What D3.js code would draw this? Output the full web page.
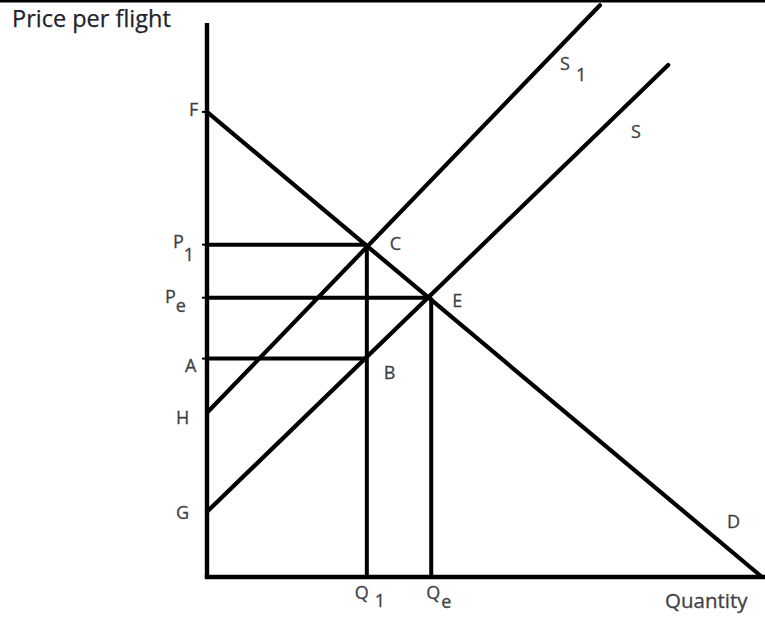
<!DOCTYPE html>
<html>
<head>
<meta charset="utf-8">
<script src="https://cdn.jsdelivr.net/npm/d3@7"></script>
<style>
  html, body { margin: 0; padding: 0; background: #fff; }
  svg { display: block; }
</style>
</head>
<body>
<svg id="chart" width="765" height="618"></svg>
<script>
// ---------- data (economic units: quantity 0-100, price 0-100) ----------
const priceLevels = [
  { name: "F",  price: 84.1 },
  { name: "P1", price: 60.1 },
  { name: "Pe", price: 50.5 },
  { name: "A",  price: 39.5 },
  { name: "H",  price: 29.7 },
  { name: "G",  price: 11.8 }
];
const quantityLevels = [
  { name: "Q1", quantity: 28.8 },
  { name: "Qe", quantity: 40.4 }
];
const demandD   = [[0, 84.1], [100, 0]];
const supplyS1  = [[0, 29.7], [70.8, 103.4]];
const supplyS   = [[0, 11.8], [83.1, 92.6]];
const pointC = [28.8, 60.1];
const pointE = [40.4, 50.5];
const pointB = [28.8, 39.5];
const axisTitles = { y: "Price per flight", x: "Quantity" };

// ---------- layout ----------
const svg = d3.select("#chart");
const x = d3.scaleLinear().domain([0, 100]).range([207, 762]);
const y = d3.scaleLinear().domain([0, 100]).range([577, 24]);
const line = d3.line().x(d => x(d[0])).y(d => y(d[1]));
const labelColor = "#3f3f44";
const font = "'Open Sans', 'DejaVu Sans', sans-serif";

// top border bar
svg.append("rect").attr("x", 0).attr("y", 0).attr("width", 765).attr("height", 2.5).attr("fill", "#000");

// axis titles
svg.append("text").attr("x", 12).attr("y", 27)
  .attr("font-family", font).attr("font-size", 23.5).attr("fill", "#22222c")
  .attr("stroke", "#22222c").attr("stroke-width", 0.25)
  .text(axisTitles.y);
svg.append("text").attr("x", 665).attr("y", 608)
  .attr("font-family", font).attr("font-size", 20.5).attr("fill", labelColor)
  .attr("stroke", labelColor).attr("stroke-width", 0.3)
  .text(axisTitles.x);

const g = svg.append("g").attr("stroke", "#000").attr("fill", "none");

// guide lines
[pointC, pointE, pointB].forEach(p => {
  g.append("path").attr("d", line([[0, p[1]], p])).attr("stroke-width", 4);
});
[pointC, pointE].forEach(p => {
  g.append("path").attr("d", line([[p[0], 0], p])).attr("stroke-width", 4);
});

// curves
g.append("path").attr("d", line(demandD)).attr("stroke-width", 4.2);
g.append("path").attr("d", line(supplyS1)).attr("stroke-width", 4.2).attr("stroke-linecap", "round");
g.append("path").attr("d", line(supplyS)).attr("stroke-width", 4.2).attr("stroke-linecap", "round");

// axes
g.append("path").attr("d", line([[0, 0], [0, 100.2]])).attr("stroke-width", 4.4);
g.append("path").attr("d", line([[-0.4, 0], [100.6, 0]])).attr("stroke-width", 4.4);

// small ticks left of axis
priceLevels.filter(d => ["F", "P1", "Pe", "A"].includes(d.name)).forEach(d => {
  g.append("line").attr("x1", x(0) - 5).attr("x2", x(0)).attr("y1", y(d.price)).attr("y2", y(d.price))
    .attr("stroke-width", 2);
});

// ---------- labels ----------
function label(txt, cx, baseline, sub, subDx, subDy) {
  const t = svg.append("text").attr("x", cx).attr("y", baseline)
    .attr("font-family", font).attr("font-size", 18)
    .attr("fill", labelColor).attr("stroke", labelColor).attr("stroke-width", 0.3)
    .text(txt);
  if (sub) {
    t.append("tspan").attr("dx", subDx).attr("dy", subDy).text(sub);
  }
  return t;
}
const pl = Object.fromEntries(priceLevels.map(d => [d.name, d.price]));
const ql = Object.fromEntries(quantityLevels.map(d => [d.name, d.quantity]));

label("F", x(0) - 18, y(pl.F) + 4);
label("P", x(0) - 34, y(pl.P1) + 3, "1", 0, 13);
label("P", x(0) - 42, y(pl.Pe) + 5, "e", 0, 9);
label("A", x(0) - 22, y(pl.A) + 13);
label("H", x(0) - 31, y(pl.H) + 11);
label("G", x(0) - 31, y(pl.G) + 7);

label("C", x(pointC[0]) + 23, y(pointC[1]) + 5);
label("E", x(pointE[0]) + 21, y(pointE[1]) + 9);
label("B", x(pointB[0]) + 17, y(pointB[1]) + 20);

label("Q", x(ql.Q1) - 12, 599, "1", 6, 8);
label("Q", x(ql.Qe) - 5, 599, "e", 1, 9);

label("S", 560, 70, "1", 6, 11);
label("S", 631, 138);
label("D", 727, 528);
</script>
</body>
</html>
